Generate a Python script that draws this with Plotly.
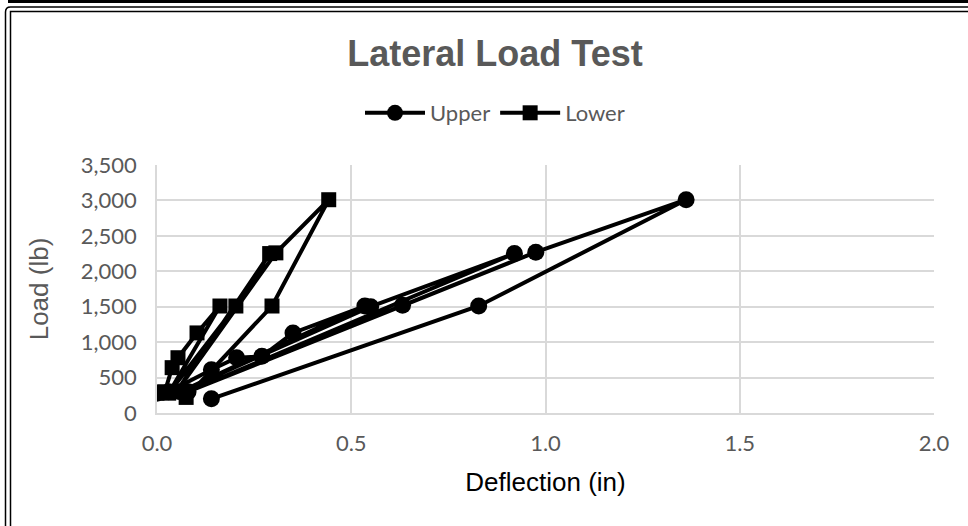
import plotly.graph_objects as go

# Data (deflection in inches, load in lb)
upper_defl = [0.0, 0.03, 0.14, 0.205, 0.27, 0.35, 0.535, 0.06, 0.55, 0.92, 0.08, 0.632, 0.975, 1.362, 0.828, 0.14]
upper_load = [280, 300, 610, 780, 800, 1130, 1510, 300, 1500, 2250, 300, 1520, 2270, 3010, 1510, 200]

lower_defl = [0.0, 0.02, 0.039, 0.054, 0.103, 0.162, 0.03, 0.203, 0.29, 0.05, 0.306, 0.442, 0.296, 0.075]
lower_load = [280, 300, 640, 780, 1130, 1510, 280, 1510, 2250, 300, 2260, 3010, 1510, 220]

x_ticks = [0.0, 0.5, 1.0, 1.5, 2.0]
y_ticks = [0, 500, 1000, 1500, 2000, 2500, 3000, 3500]

W, H = 968, 526
L, R, T, B = 157, 34, 165, 113
pw, ph = W - L - R, H - T - B

def px(x):
    return (x - L) / pw

def py(y):
    return (H - B - y) / ph

fig = go.Figure()
fig.add_trace(go.Scatter(
    x=upper_defl, y=upper_load, name="Upper", mode="lines+markers",
    line=dict(color="black", width=4),
    marker=dict(symbol="circle", size=17, color="black"),
))
fig.add_trace(go.Scatter(
    x=lower_defl, y=lower_load, name="Lower", mode="lines+markers",
    line=dict(color="black", width=4),
    marker=dict(symbol="square", size=15, color="black"),
))

shapes = []
# thick top bar
shapes.append(dict(type="rect", xref="paper", yref="paper",
                   x0=px(8), x1=px(968), y0=py(0), y1=py(3),
                   fillcolor="black", line=dict(width=0), layer="above"))
# outer border (left + top)
shapes.append(dict(type="path", xref="paper", yref="paper",
                   path=f"M {px(5.5)},{py(530)} L {px(5.5)},{py(12)} Q {px(5.5)},{py(7)} {px(10.5)},{py(7)} L {px(975)},{py(7)}",
                   line=dict(color="black", width=1.5), layer="above"))
# inner border
shapes.append(dict(type="path", xref="paper", yref="paper",
                   path=f"M {px(10.5)},{py(530)} L {px(10.5)},{py(11.5)} L {px(975)},{py(11.5)}",
                   line=dict(color="black", width=1.5), layer="above"))

fig.update_layout(
    width=W, height=H,
    margin=dict(l=L, r=R, t=T, b=B, autoexpand=False),
    paper_bgcolor="white", plot_bgcolor="white",
    title=dict(text="<b>Lateral Load Test</b>", x=495 / W, xanchor="center",
               y=1 - 53 / H, yanchor="middle",
               font=dict(family="Liberation Sans, Arial", size=36, color="#595959")),
    legend=dict(orientation="h", x=px(495), xanchor="center", y=py(113), yanchor="middle",
                font=dict(family="Lato, Noto Sans", size=22, color="#595959"),
                itemwidth=60, tracegroupgap=0, bgcolor="rgba(0,0,0,0)"),
    showlegend=True,
    shapes=shapes,
    xaxis=dict(range=[0, 2.0], tickvals=x_ticks, tickformat=".1f",
               showgrid=True, gridcolor="#d9d9d9", gridwidth=1.5,
               showline=True, linecolor="#d9d9d9", linewidth=1.5,
               zeroline=False, ticks="outside", ticklen=10, tickcolor="rgba(0,0,0,0)",
               tickfont=dict(family="Lato, Noto Sans", size=22, color="#595959"),
               title=dict(text="Deflection (in)", standoff=18,
                          font=dict(family="Liberation Sans, Arial", size=26, color="#000000"))),
    yaxis=dict(range=[0, 3500], tickvals=y_ticks, tickformat=",",
               showgrid=True, gridcolor="#d9d9d9", gridwidth=1.5,
               showline=True, linecolor="#d9d9d9", linewidth=1.5,
               zeroline=False, ticks="outside", ticklen=14, tickcolor="rgba(0,0,0,0)",
               tickfont=dict(family="Lato, Noto Sans", size=22, color="#595959"),
               title=dict(text="Load (lb)", standoff=25,
                          font=dict(family="Liberation Sans, Arial", size=26, color="#595959"))),
)

fig.write_html("out.html", config={"displayModeBar": False},
               post_script="document.body.style.margin='0';document.body.style.overflow='hidden';")
